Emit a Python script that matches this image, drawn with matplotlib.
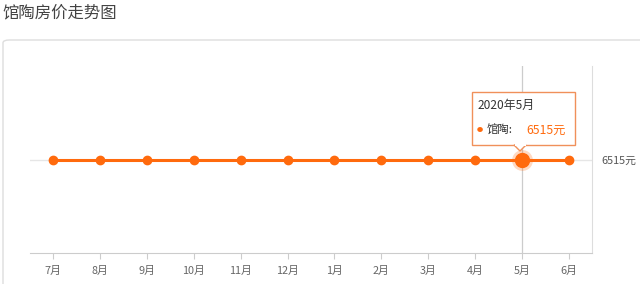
import matplotlib

matplotlib.use("Agg")
import matplotlib.pyplot as plt
from matplotlib.patches import FancyBboxPatch, Polygon, Rectangle

plt.rcParams["font.family"] = ["Noto Sans CJK SC", "DejaVu Sans"]

# data
months = ["7月", "8月", "9月", "10月", "11月", "12月",
          "1月", "2月", "3月", "4月", "5月", "6月"]
prices = [6515, 6515, 6515, 6515, 6515, 6515,
          6515, 6515, 6515, 6515, 6515, 6515]
title = "馆陶房价走势图"
city = "馆陶"
hover_idx = 10
hover_label = "2020年5月"
y_ticks = [6515]

ORANGE = "#ff6a0d"
W, H = 640, 284

fig = plt.figure(figsize=(W / 100, H / 100), dpi=100)
fig.patch.set_facecolor("white")

# card frame and title (figure pixel coords)
fig.text(2 / W, 1 - 13 / H, title, fontsize=11.8, color="#444444",
         ha="left", va="center")
fig.patches.append(FancyBboxPatch((3 / W, -0.05), 1.2, 1 - 40 / H + 0.05,
                                  boxstyle="round,pad=0,rounding_size=0.01",
                                  transform=fig.transFigure,
                                  fill=False, edgecolor="#dddddd", linewidth=1))

x0, x1, ytop, ybot = 30, 592, 66, 253
ax = fig.add_axes([x0 / W, 1 - ybot / H, (x1 - x0) / W, (ybot - ytop) / H])
xs = list(range(len(months)))
ax.set_xlim(-0.5, len(months) - 0.5)
ax.set_ylim(0, 2 * y_ticks[0])

for s in ["top", "left"]:
    ax.spines[s].set_visible(False)
ax.spines["bottom"].set_color("#cccccc")
ax.spines["right"].set_color("#dddddd")
ax.spines["right"].set_linewidth(0.8)

ax.set_xticks(xs)
ax.set_xticklabels(months)
ax.tick_params(axis="x", length=4, color="#cccccc", labelsize=7.8,
               labelcolor="#666666", pad=5)
ax.yaxis.tick_right()
ax.set_yticks(y_ticks)
ax.set_yticklabels([f"{v}元" for v in y_ticks])
ax.tick_params(axis="y", length=0, labelsize=7.8, labelcolor="#555555", pad=7)
ax.grid(axis="y", color="#e6e6e6", linewidth=1)

# crosshair
ax.axvline(hover_idx, color="#cccccc", linewidth=0.9, zorder=1)

ax.plot(xs, prices, color=ORANGE, linewidth=2.2, marker="o", markersize=6,
        zorder=3)
ax.plot(hover_idx, prices[hover_idx], "o", color=ORANGE, markersize=15,
        alpha=0.25, markeredgewidth=0, zorder=4)
ax.plot(hover_idx, prices[hover_idx], "o", color=ORANGE, markersize=10,
        zorder=5)

# tooltip
bx0, bx1, by0, by1 = 472, 575, 92, 145
tip = FancyBboxPatch((bx0 / W, 1 - by1 / H), (bx1 - bx0) / W, (by1 - by0) / H,
                     boxstyle="square,pad=0", transform=fig.transFigure,
                     facecolor="white", edgecolor="#f0905a", linewidth=1,
                     zorder=10)
fig.patches.append(tip)
cx = 520
fig.patches.append(Polygon([((cx - 6) / W, 1 - by1 / H),
                            ((cx + 6) / W, 1 - by1 / H),
                            (cx / W, 1 - (by1 + 6) / H)],
                           closed=True, transform=fig.transFigure,
                           facecolor="white", edgecolor="#f0905a",
                           linewidth=1, zorder=10))
fig.patches.append(Rectangle(((cx - 5.5) / W, 1 - (by1 + 0.5) / H), 11 / W, 1.5 / H,
                             transform=fig.transFigure, facecolor="white",
                             edgecolor="none", zorder=11))
fig.text(478 / W, 1 - 105 / H, hover_label, fontsize=8.6, color="#333333",
         va="center", zorder=12)
fig.text(477 / W, 1 - 130 / H, "●", fontsize=4.5, color=ORANGE, va="center",
         zorder=12)
fig.text(487 / W, 1 - 130 / H, f"{city}:", fontsize=8.2, color="#333333",
         va="center", zorder=12)
fig.text(526 / W, 1 - 130 / H, f"{prices[hover_idx]}元", fontsize=8.8,
         color=ORANGE, va="center", zorder=12)

fig.savefig("out.png", dpi=100)
